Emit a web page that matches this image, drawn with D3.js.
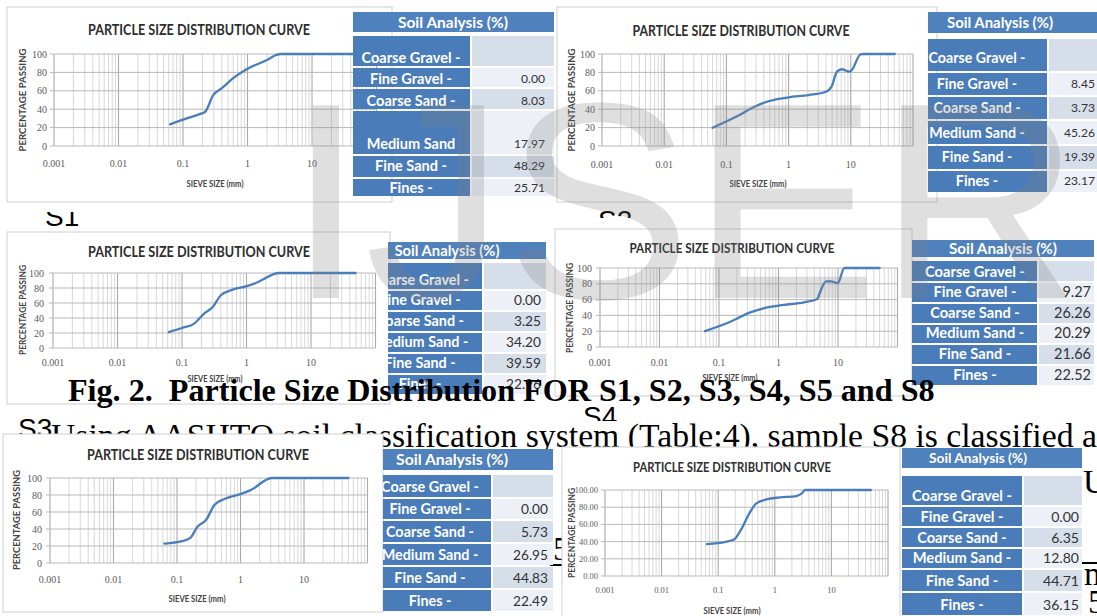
<!DOCTYPE html>
<html>
<head>
<meta charset="utf-8">
<script src="https://cdn.jsdelivr.net/npm/d3@7"></script>
<style>
  html, body { margin: 0; padding: 0; background: #fff; overflow: hidden; }
  svg { display: block; }
</style>
</head>
<body>
<svg id="page" width="1097" height="616"></svg>
<script>
// ---- Axis ticks ----
const sieveTicks = [0.001, 0.01, 0.1, 1, 10];
const sieveTickLabels = ["0.001", "0.01", "0.1", "1", "10"];
const passingTicks = [0, 20, 40, 60, 80, 100];

// ---- Grading curves: sieve size (mm) vs percentage passing ----
const sizesS1 = [0.063, 0.09, 0.136, 0.195, 0.22, 0.295, 0.40, 0.60, 0.97, 2.0, 2.8, 3.3, 10, 37.5, 75];
const passS1  = [23.5, 27.5, 31.7, 35.4, 37, 55.5, 62.8, 73.7, 83.5, 93.4, 99, 100, 100, 100, 100];

const sizesS2 = [0.06, 0.143, 0.3, 0.49, 1.0, 2.1, 4.0, 4.9, 6.0, 7.2, 9.4, 10.4, 14.3, 16, 51];
const passS2  = [19.9, 31.8, 43.5, 48.9, 52.9, 55.4, 59, 64.5, 80.8, 83.4, 80.8, 82.6, 99.7, 100, 100];

const sizesS3 = [0.0625, 0.1, 0.155, 0.22, 0.3, 0.4, 0.61, 0.98, 1.4, 3.2, 49];
const passS3  = [21.3, 26.7, 32.5, 45.8, 54.7, 70.3, 77.8, 82.3, 86.7, 100, 100];

const sizesS4 = [0.058, 0.155, 0.335, 0.56, 1.23, 2.7, 4.5, 4.8, 6.3, 7.6, 9.9, 12.8, 50];
const passS4  = [20, 31.9, 43.9, 49, 53.2, 56.6, 60.8, 66, 83, 83, 80.8, 100, 100];

const sizesS5 = [0.063, 0.12, 0.162, 0.21, 0.286, 0.39, 0.57, 1.0, 1.47, 3.1, 50];
const passS5  = [22.9, 25.7, 29.6, 42.7, 50.6, 68.4, 75.5, 81, 86, 100, 100];

const sizesS8 = [0.063, 0.135, 0.19, 0.25, 0.355, 0.47, 0.71, 1.22, 2.4, 3.0, 3.44, 50];
const passS8  = [37, 39.7, 42.4, 53.3, 72.8, 84.4, 89, 91.4, 93, 96, 100, 100];

// ---- Soil analysis tables (%) ----
const fractionLabels   = ["Coarse Gravel -", "Fine Gravel -", "Coarse Sand -", "Medium Sand -", "Fine Sand -", "Fines -"];
const fractionLabelsS1 = ["Coarse Gravel -", "Fine Gravel -", "Coarse Sand -", "Medium Sand", "Fine Sand -", "Fines -"];
const shareS1 = [null, 0.00, 8.03, 17.97, 48.29, 25.71];
const shareS2 = [null, 8.45, 3.73, 45.26, 19.39, 23.17];
const shareS3 = [null, 0.00, 3.25, 34.20, 39.59, 22.96];
const shareS4 = [null, 9.27, 26.26, 20.29, 21.66, 22.52];
const shareS5 = [null, 0.00, 5.73, 26.95, 44.83, 22.49];
const shareS8 = [null, 0.00, 6.35, 12.80, 44.71, 36.15];

// ---- Page text ----
const captionText = "Fig. 2.\u00a0 Particle Size Distribution FOR S1, S2, S3, S4, S5 and S8";
const bodyText = "Using AASHTO soil classification system (Table:4), sample S8 is classified as";
const chartTitle = "PARTICLE SIZE DISTRIBUTION CURVE";
const tableTitle = "Soil Analysis (%)";

const svg = d3.select("#page");
svg.append("rect").attr("width", 1097).attr("height", 616).attr("fill", "#fff");
const defs = svg.append("defs");
let clipCount = 0;
function clipRect(x, y, w, h) {
  const id = "clip" + (clipCount++);
  defs.append("clipPath").attr("id", id)
    .append("rect").attr("x", x).attr("y", y).attr("width", w).attr("height", h);
  return `url(#${id})`;
}

// font size that makes `str` span `target` pixels
function sizeFor(str, target, family, weight) {
  const t = svg.append("text").attr("font-family", family).attr("font-weight", weight)
    .attr("font-size", 20).text(str);
  const w = t.node().getComputedTextLength();
  t.remove();
  return 20 * target / w;
}

const SANS = "Lato, 'Liberation Sans', sans-serif";
const SERIF = "'Liberation Serif', 'DejaVu Serif', serif";
const ARIAL = "'Liberation Sans', Arial, sans-serif";

// condensed bold label: tall glyphs squeezed to a given width
function condensed(g, str, x, y, size, width, fill) {
  return g.append("text").attr("x", x).attr("y", y).attr("dy", "0.35em")
    .attr("text-anchor", "middle").attr("font-family", SANS).attr("font-weight", 700)
    .attr("font-size", size).attr("textLength", width).attr("lengthAdjust", "spacingAndGlyphs")
    .attr("fill", fill).text(str);
}

function drawChart(c, sizes, pass) {
  const g = svg.append("g");
  g.append("rect").attr("x", c.frame[0]).attr("y", c.frame[1])
    .attr("width", c.frame[2]).attr("height", c.frame[3])
    .attr("fill", "#fff").attr("stroke", "#cfcfcf").attr("stroke-width", 1);

  const x = d3.scaleLog().domain([0.001, 100]).range([c.x0, c.x1]);
  const y = d3.scaleLinear().domain([0, 100]).range([c.yb, c.yt]);

  const minor = [], major = [];
  for (let e = -3; e <= 2; e++) {
    const d = Math.pow(10, e);
    major.push(d);
    if (e < 2) for (let k = 2; k <= 9; k++) minor.push(k * d);
  }
  g.selectAll("line.minor").data(minor).join("line").attr("class", "minor")
    .attr("x1", d => x(d)).attr("x2", d => x(d)).attr("y1", c.yt).attr("y2", c.yb)
    .attr("stroke", "#d4d4d4").attr("stroke-width", 0.9);
  g.selectAll("line.major").data(major).join("line").attr("class", "major")
    .attr("x1", d => x(d)).attr("x2", d => x(d)).attr("y1", c.yt).attr("y2", c.yb)
    .attr("stroke", "#a9a9a9").attr("stroke-width", 1.1);
  g.selectAll("line.hgrid").data(passingTicks).join("line").attr("class", "hgrid")
    .attr("x1", c.x0 - 4).attr("x2", c.x1).attr("y1", d => y(d)).attr("y2", d => y(d))
    .attr("stroke", "#b9b9b9").attr("stroke-width", 1);

  g.selectAll("text.ylab").data(passingTicks).join("text").attr("class", "ylab")
    .attr("x", c.yLabelX).attr("y", d => y(d)).attr("dy", "0.35em")
    .attr("text-anchor", "end").attr("font-family", SERIF).attr("font-size", c.tickFs)
    .attr("fill", "#5a5a5a")
    .text(d => c.decimals ? d.toFixed(2) : d);
  g.selectAll("text.xlab").data(sieveTicks).join("text").attr("class", "xlab")
    .attr("x", d => x(d)).attr("y", c.xLabelY).attr("dy", "0.35em")
    .attr("text-anchor", "middle").attr("font-family", SERIF).attr("font-size", c.tickFs)
    .attr("fill", "#5a5a5a")
    .text((d, i) => sieveTickLabels[i]);

  const curve = sizes.map((s, i) => [s, pass[i]]);
  g.append("path").datum(curve)
    .attr("d", d3.line().x(d => x(d[0])).y(d => y(d[1])).curve(d3.curveMonotoneX))
    .attr("fill", "none").attr("stroke", "#4a7ebb").attr("stroke-width", 2.3)
    .attr("stroke-linejoin", "round").attr("stroke-linecap", "round");

  condensed(g, chartTitle, c.title[0], c.title[1], c.title[3], c.title[2], "#2e2e2e");
  condensed(g, "SIEVE SIZE (mm)", c.xTitle[0], c.xTitle[1], 9, c.xTitle[2], "#444");

  g.append("text")
    .attr("transform", `translate(${c.yTitle[0]},${c.yTitle[1]}) rotate(-90)`)
    .attr("dy", "0.35em").attr("text-anchor", "middle")
    .attr("font-family", SANS).attr("font-weight", 700)
    .attr("font-size", 9).attr("textLength", c.yTitle[2]).attr("lengthAdjust", "spacingAndGlyphs")
    .attr("fill", "#444").text("PERCENTAGE PASSING");
}

function drawTable(t, labels, share) {
  const g = svg.append("g").attr("clip-path", clipRect(...t.clip));
  const labelFs = sizeFor("Coarse Gravel -", t.labelW, SANS, 700);
  const headFs = sizeFor(tableTitle, t.headW, SANS, 700);
  const valFs = sizeFor("25.71", t.valW, SANS, 400);

  g.append("rect").attr("x", t.x0).attr("y", t.h0).attr("width", t.x1 - t.x0)
    .attr("height", t.h1 - t.h0).attr("fill", "#4f81bd");
  g.append("text").attr("x", t.hcx).attr("y", (t.h0 + t.h1) / 2).attr("dy", "0.36em")
    .attr("text-anchor", "middle").attr("font-family", SANS).attr("font-weight", 700)
    .attr("font-size", headFs).attr("fill", "#fff").text(tableTitle);

  labels.forEach((lab, i) => {
    const top = t.rows[i], bot = t.rows[i + 1];
    g.append("rect").attr("x", t.x0).attr("y", top + 1).attr("width", t.xs - t.x0 - 1)
      .attr("height", bot - top - 2).attr("fill", "#4a7cba");
    g.append("rect").attr("x", t.xs + 1).attr("y", top + 1).attr("width", t.x1 - t.xs - 1)
      .attr("height", bot - top - 2).attr("fill", i % 2 === 0 ? "#d6deea" : "#edf0f6");
    g.append("text").attr("x", t.cx).attr("y", t.textY[i]).attr("dy", "0.36em")
      .attr("text-anchor", "middle").attr("font-family", SANS).attr("font-weight", 700)
      .attr("font-size", labelFs).attr("fill", "#fff").text(lab);
    if (share[i] !== null) {
      g.append("text").attr("x", t.vx).attr("y", t.textY[i]).attr("dy", "0.36em")
        .attr("text-anchor", "end").attr("font-family", SANS)
        .attr("font-size", valFs).attr("fill", "#333").text(share[i].toFixed(2));
    }
  });
}

function pageText(str, x, y, size, opts = {}) {
  return svg.append("text").attr("x", x).attr("y", y)
    .attr("font-family", opts.family || SERIF).attr("font-weight", opts.weight || 400)
    .attr("font-size", size).attr("fill", "#000").text(str);
}

// ---- Layout ----
const chartS1 = { frame: [7, 7, 385, 195], x0: 54, x1: 376.5, yt: 54, yb: 146, title: [199, 29, 222, 16],
  yLabelX: 47, xLabelY: 163, xTitle: [215, 184, 57], yTitle: [23, 100, 103], tickFs: 10 };
const chartS2 = { frame: [557, 7, 380, 195], x0: 602, x1: 913, yt: 54, yb: 146, title: [741, 30, 217, 16],
  yLabelX: 595, xLabelY: 164, xTitle: [758, 184, 57], yTitle: [572, 100, 103], tickFs: 10 };
const chartS3 = { frame: [7, 232, 383, 172], x0: 53, x1: 375.5, yt: 273, yb: 348, title: [199, 252, 222, 15],
  yLabelX: 44, xLabelY: 362, xTitle: [215, 379, 55], yTitle: [23, 310, 90], tickFs: 10 };
const chartS4 = { frame: [555, 229, 357, 167], x0: 600, x1: 897.5, yt: 268, yb: 347, title: [732, 248, 205, 14],
  yLabelX: 592, xLabelY: 362, xTitle: [730, 378, 55], yTitle: [570, 308, 90], tickFs: 10 };
const chartS5 = { frame: [3, 434, 380, 178], x0: 50, x1: 367.5, yt: 478, yb: 563, title: [198, 455, 222, 15],
  yLabelX: 42, xLabelY: 579, xTitle: [197, 599, 57], yTitle: [17, 520, 100], tickFs: 10 };
const chartS8 = { frame: [562, 447, 338, 175], x0: 605, x1: 888, yt: 490, yb: 576, title: [732, 467, 198, 14],
  yLabelX: 598, xLabelY: 590, xTitle: [732, 611, 57], yTitle: [572, 533, 90], tickFs: 8.5, decimals: true };

const tableS1 = { clip: [353, 0, 202, 200], x0: 353, xs: 471, x1: 554, h0: 12, h1: 32, hcx: 453,
  rows: [35, 67, 88, 110, 155, 178, 197], textY: [58, 79, 101, 144, 166, 188],
  cx: 411, vx: 545, labelW: 99, headW: 110, valW: 31 };
const tableS2 = { clip: [928, 0, 169, 200], x0: 903, xs: 1048, x1: 1110, h0: 12, h1: 33, hcx: 1000,
  rows: [38, 72, 96, 120, 145, 170, 193], textY: [58, 84, 108, 133, 157, 181],
  cx: 977, vx: 1095, labelW: 97, headW: 106, valW: 31 };
const tableS3 = { clip: [388, 235, 160, 165], x0: 360, xs: 483, x1: 546, h0: 242, h1: 259, hcx: 447,
  rows: [262, 290, 311, 332, 353, 374, 395], textY: [280, 300, 321, 342, 363, 384],
  cx: 420, vx: 541, labelW: 98, headW: 105, valW: 35 };
const tableS4 = { clip: [912, 235, 185, 155], x0: 912, xs: 1038, x1: 1094, h0: 240, h1: 257, hcx: 1003,
  rows: [260, 282, 303, 324, 344, 365, 386], textY: [272, 292, 313, 333, 354, 375],
  cx: 975, vx: 1091, labelW: 100, headW: 108, valW: 37 };
const tableS5 = { clip: [383, 445, 172, 171], x0: 365, xs: 492, x1: 553, h0: 449, h1: 470, hcx: 452,
  rows: [474, 498, 520, 543, 566, 589, 612], textY: [487, 509, 532, 555, 578, 601],
  cx: 430, vx: 548, labelW: 98, headW: 112, valW: 35 };
const tableS8 = { clip: [902, 445, 195, 171], x0: 902, xs: 1023, x1: 1082, h0: 448, h1: 468, hcx: 978,
  rows: [475, 506, 527, 548, 569, 592, 616], textY: [496, 517, 538, 558, 581, 605],
  cx: 962, vx: 1079, labelW: 100, headW: 98, valW: 36 };

// ---- Draw, back to front ----
pageText("S1", 45, 226, 28, { family: ARIAL }).attr("clip-path", clipRect(30, 212, 60, 14));
pageText("S2", 598, 230, 28, { family: ARIAL }).attr("clip-path", clipRect(580, 203, 60, 15));

drawChart(chartS1, sizesS1, passS1);
drawTable(tableS1, fractionLabelsS1, shareS1);
drawChart(chartS2, sizesS2, passS2);
drawTable(tableS2, fractionLabels, shareS2);

pageText("S4", 583, 426, 28, { family: ARIAL }).attr("clip-path", clipRect(570, 390, 60, 31));

drawChart(chartS3, sizesS3, passS3);
drawTable(tableS3, fractionLabels, shareS3);
drawChart(chartS4, sizesS4, passS4);
drawTable(tableS4, fractionLabels, shareS4);

// figure caption
const cap = pageText(captionText, 68, 401, 30, { weight: 700 });
cap.attr("font-size", 30 * 867 / cap.node().getComputedTextLength());

// paragraph line and fragments of neighbouring lines
const bodyFs = sizeFor("Using AASHTO soil classification system (Table:4), sample S8 is classified a", 1046, SERIF, 400);
pageText(bodyText, 51, 447, bodyFs);
pageText("Under", 1083, 493, bodyFs);
pageText("5", 553, 560, bodyFs);
svg.append("line").attr("x1", 550).attr("x2", 562).attr("y1", 565).attr("y2", 565).attr("stroke", "#000").attr("stroke-width", 2);
pageText("mo", 1084, 585, bodyFs);
svg.append("line").attr("x1", 1082).attr("x2", 1097).attr("y1", 563).attr("y2", 563).attr("stroke", "#000").attr("stroke-width", 2);
pageText("5", 1088, 613, bodyFs);
pageText("S3", 18, 438, 28, { family: ARIAL });

drawChart(chartS5, sizesS5, passS5);
drawTable(tableS5, fractionLabels, shareS5);
drawChart(chartS8, sizesS8, passS8);
drawTable(tableS8, fractionLabels, shareS8);

// watermark
svg.append("text").attr("x", 287).attr("y", 298)
  .attr("font-family", ARIAL).attr("font-size", 280)
  .attr("fill", "#808080").attr("fill-opacity", 0.25).text("IJSER");
</script>
</body>
</html>
